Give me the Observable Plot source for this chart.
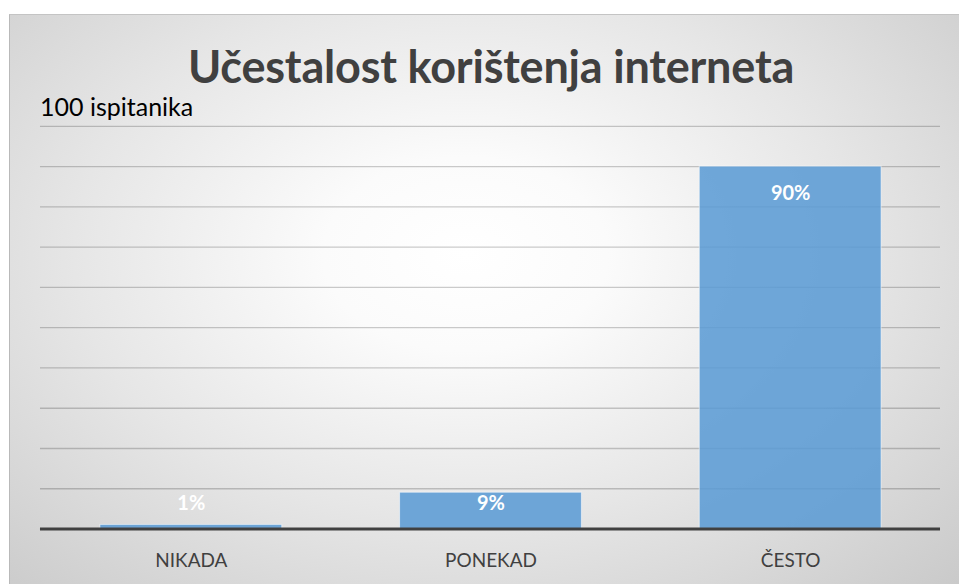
<!DOCTYPE html>
<html>
<head>
<meta charset="utf-8">
<script src="https://cdn.jsdelivr.net/npm/d3@7"></script>
<script src="https://cdn.jsdelivr.net/npm/@observablehq/plot@0.6"></script>
<style>
  html, body { margin: 0; padding: 0; background: #ffffff; width: 959px; height: 584px; overflow: hidden; }
  #chart {
    position: absolute; left: 9px; top: 14px; width: 950px; height: 570px;
    box-sizing: border-box;
    border-left: 1px solid #b9b9b9; border-top: 1px solid #c4c4c4;
    background: radial-gradient(ellipse 75% 85% at 48% 42%, #ffffff 0%, #fbfbfb 20%, #e6e6e6 55%, #c8c8c8 100%);
    font-family: Lato, "Open Sans", sans-serif;
  }
  #title {
    position: absolute; left: 0; width: 962px; top: 24px; text-align: center;
    font-size: 45px; font-weight: 700; color: #404040; letter-spacing: -0.2px;
  }
  #subtitle {
    position: absolute; left: 30px; top: 76px; font-size: 25px; color: #000000;
  }
  #plot { position: absolute; left: 0; top: 0; }
</style>
</head>
<body>
<div id="chart">
  <div id="plot"></div>
  <div id="title">Učestalost korištenja interneta</div>
  <div id="subtitle">100 ispitanika</div>
</div>
<script>
const categories = ["NIKADA", "PONEKAD", "ČESTO"];
const values = [1, 9, 90];
const valueLabels = ["1%", "9%", "90%"];
const gridTicks = [10, 20, 30, 40, 50, 60, 70, 80, 90, 100];

const data = categories.map((c, i) => ({category: c, value: values[i], label: valueLabels[i]}));

const plot = Plot.plot({
  width: 950,
  height: 570,
  marginLeft: 30,
  marginRight: 19,
  marginTop: 111,
  marginBottom: 56,
  style: {background: "transparent", fontFamily: "Lato, 'Open Sans', sans-serif", overflow: "visible"},
  x: {domain: categories, paddingInner: 0.395, paddingOuter: 0.1975, label: null},
  y: {domain: [0, 100], axis: null},
  marks: [
    Plot.ruleY(gridTicks, {stroke: "#000", strokeOpacity: 0.2, strokeWidth: 1.4}),
    Plot.barY(data, {x: "category", y: "value", fill: "#5b9bd5", fillOpacity: 0.87, stroke: "#ffffff", strokeOpacity: 0.55, strokeWidth: 1}),
    Plot.ruleY([0], {stroke: "#404040", strokeWidth: 3}),
    Plot.text(data, {x: "category", y: d => Math.max(d.value, 13), dy: 27, text: "label", fill: "#ffffff", fontSize: 20, fontWeight: 700}),
    Plot.axisX({tickSize: 0, tickPadding: 25, fontSize: 19, color: "#404040", label: null})
  ]
});
document.getElementById("plot").appendChild(plot);
</script>
</body>
</html>
